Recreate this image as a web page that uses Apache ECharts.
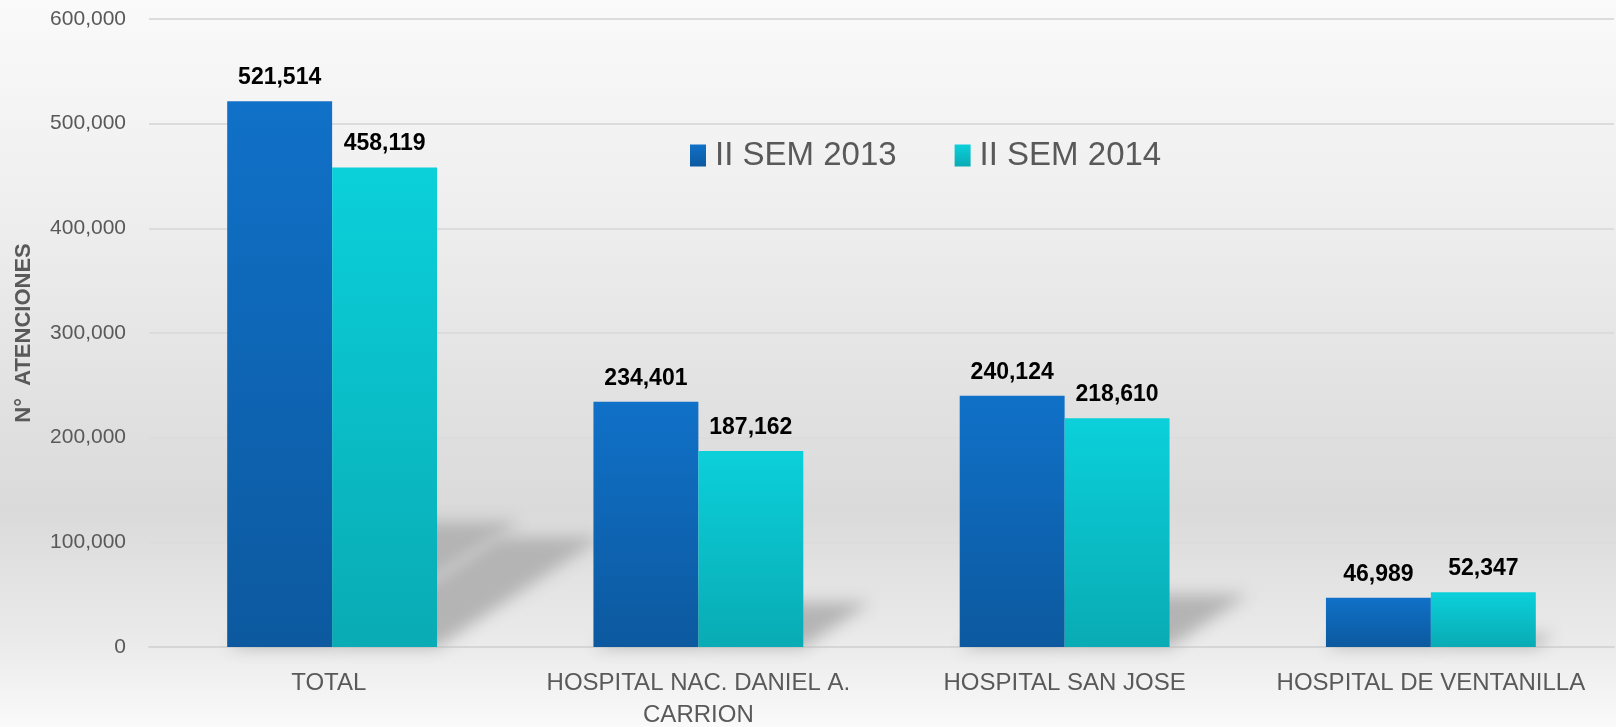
<!DOCTYPE html>
<html>
<head>
<meta charset="utf-8">
<script src="https://cdn.jsdelivr.net/npm/echarts@6/dist/echarts.min.js"></script>
<style>
  html, body { margin: 0; padding: 0; }
  #chart { width: 1616px; height: 727px; }
</style>
</head>
<body>
<div id="chart"></div>
<script>
  "use strict";
  // ---------------- datos ----------------
  var categorias = ['TOTAL ', 'HOSPITAL NAC. DANIEL A.\nCARRION', 'HOSPITAL SAN JOSE', 'HOSPITAL DE VENTANILLA'];
  var sem2013 = [521514, 234401, 240124, 46989];
  var sem2014 = [458119, 187162, 218610, 52347];
  var nombres = ['II SEM 2013', 'II SEM 2014'];

  var font = "'Liberation Sans', Arial, sans-serif";
  var gap = 0.427;
  var OFF = 4000; // la forma se dibuja fuera y solo se ve su sombra difuminada

  function grad(top, bottom){
    return new echarts.graphic.LinearGradient(0, 0, 0, 1, [{ offset: 0, color: top }, { offset: 1, color: bottom }]);
  }

  // sombra inclinada detras de cada par de barras
  var sombras = categorias.map(function(c, i){ return [i, sem2013[i], sem2014[i]]; });
  function renderSombra(params, api){
    var i = api.value(0);
    var base = api.coord([i, 0]);
    var band = api.size([1, 0])[0];
    var bw = band * (1 - gap) / 2;
    var cx = base[0], y0 = base[1];
    var kids = [];
    [[cx - bw, cx, api.value(1)], [cx, cx + bw, api.value(2)]].forEach(function(b){
      var h = y0 - api.coord([i, b[2]])[1];
      var dy = h * 0.23, dx = dy * 1.5;
      kids.push({
        type: 'polygon',
        shape: { points: [[b[0] - OFF, y0], [b[1] - OFF, y0], [b[1] + dx - OFF, y0 - dy], [b[0] + dx - OFF, y0 - dy]] },
        style: { fill: '#b4b4b4', shadowBlur: 16, shadowColor: '#b4b4b4', shadowOffsetX: OFF }
      });
    });
    return { type: 'group', children: kids };
  }

  var chart = echarts.init(document.getElementById('chart'));
  var option = {
    animation: false,
    backgroundColor: new echarts.graphic.LinearGradient(0, 0, 0, 1, [
      { offset: 0, color: '#fafafa' },
      { offset: 0.3, color: '#eeeeee' },
      { offset: 0.7, color: '#dadada' },
      { offset: 0.89, color: '#ebebeb' },
      { offset: 1, color: '#fafafa' }
    ]),
    grid: { left: 149, right: 2, top: 19, bottom: 80, outerBoundsMode: 'none', containLabel: false },
    legend: {
      data: nombres, left: 685, top: 134, itemGap: 58, itemWidth: 16, itemHeight: 22,
      icon: 'rect',
      textStyle: { fontFamily: font, fontSize: 33, color: '#595959', padding: [0, 0, 0, 4] }
    },
    xAxis: {
      type: 'category', data: categorias,
      axisTick: { show: false },
      axisLine: { lineStyle: { color: '#d6d6d6', width: 2 } },
      axisLabel: { fontFamily: font, fontSize: 24, color: '#595959', margin: 20, lineHeight: 32, interval: 0 }
    },
    yAxis: {
      type: 'value', min: 0, max: 600000, interval: 100000,
      name: 'N°  ATENCIONES', nameLocation: 'middle', nameGap: 114,
      nameTextStyle: { fontFamily: font, fontSize: 22, fontWeight: 'bold', color: '#595959' },
      axisLabel: { fontFamily: font, fontSize: 21, color: '#595959', margin: 23,
        formatter: function(v){ return v.toLocaleString('en-US'); } },
      splitLine: { lineStyle: { color: '#dcdcdc', width: 2 } }
    },
    series: [
      {
        type: 'custom', renderItem: renderSombra, data: sombras, z: 1, silent: true, clip: false,
        encode: { x: 0, y: [1, 2] }
      },
      {
        name: nombres[0], type: 'bar', data: sem2013, z: 3, barGap: 0, barCategoryGap: (gap * 100) + '%',
        itemStyle: { color: grad('#1071c8', '#0c599f') },
        label: { show: true, position: 'top', distance: 12, fontFamily: font, fontSize: 23, fontWeight: 'bold', color: '#000',
          formatter: function(p){ return p.value.toLocaleString('en-US'); } }
      },
      {
        name: nombres[1], type: 'bar', data: sem2014, z: 3, barGap: 0, barCategoryGap: (gap * 100) + '%',
        itemStyle: { color: grad('#0bd0da', '#09abb4') },
        label: { show: true, position: 'top', distance: 12, fontFamily: font, fontSize: 23, fontWeight: 'bold', color: '#000',
          formatter: function(p){ return p.value.toLocaleString('en-US'); } }
      }
    ]
  };
  chart.setOption(option);
</script>
</body>
</html>
